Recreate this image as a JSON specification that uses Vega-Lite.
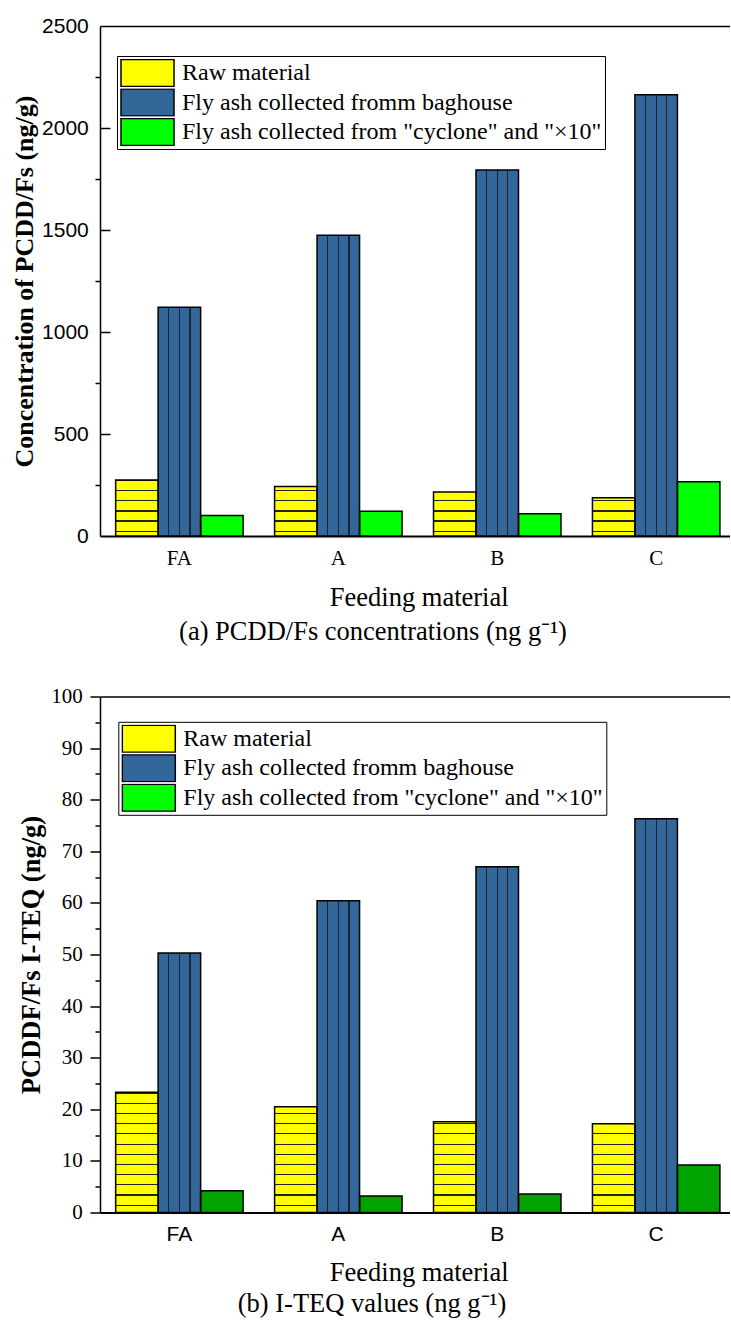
{
  "$schema": "https://vega.github.io/schema/vega-lite/v6.json",
  "background": "white",
  "padding": {"left": 11, "top": 15, "right": 0, "bottom": 5},
  "spacing": 40.5,
  "datasets": {
    "a": [
      {"g": "FA", "s": "Raw material", "v": 274},
      {"g": "FA", "s": "Fly ash collected fromm baghouse", "v": 1121},
      {"g": "FA", "s": "Fly ash collected from \"cyclone\" and \"×10\"", "v": 100},
      {"g": "A", "s": "Raw material", "v": 243},
      {"g": "A", "s": "Fly ash collected fromm baghouse", "v": 1474},
      {"g": "A", "s": "Fly ash collected from \"cyclone\" and \"×10\"", "v": 121},
      {"g": "B", "s": "Raw material", "v": 216},
      {"g": "B", "s": "Fly ash collected fromm baghouse", "v": 1794},
      {"g": "B", "s": "Fly ash collected from \"cyclone\" and \"×10\"", "v": 109},
      {"g": "C", "s": "Raw material", "v": 187},
      {"g": "C", "s": "Fly ash collected fromm baghouse", "v": 2163},
      {"g": "C", "s": "Fly ash collected from \"cyclone\" and \"×10\"", "v": 266}
    ],
    "b": [
      {"g": "FA", "s": "Raw material", "v": 23.3},
      {"g": "FA", "s": "Fly ash collected fromm baghouse", "v": 50.3},
      {"g": "FA", "s": "Fly ash collected from \"cyclone\" and \"×10\"", "v": 4.2},
      {"g": "A", "s": "Raw material", "v": 20.5},
      {"g": "A", "s": "Fly ash collected fromm baghouse", "v": 60.4},
      {"g": "A", "s": "Fly ash collected from \"cyclone\" and \"×10\"", "v": 3.2},
      {"g": "B", "s": "Raw material", "v": 17.6},
      {"g": "B", "s": "Fly ash collected fromm baghouse", "v": 67.0},
      {"g": "B", "s": "Fly ash collected from \"cyclone\" and \"×10\"", "v": 3.6},
      {"g": "C", "s": "Raw material", "v": 17.2},
      {"g": "C", "s": "Fly ash collected fromm baghouse", "v": 76.3},
      {"g": "C", "s": "Fly ash collected from \"cyclone\" and \"×10\"", "v": 9.2}
    ]
  },
  "resolve": {"scale": {"color": "independent"}, "legend": {"color": "independent"}},
  "config": {
    "view": {"stroke": null},
    "axis": {"labelColor": "black", "titleColor": "black", "domainColor": "black", "tickColor": "black"}
  },
  "vconcat": [
    {
      "width": 630,
      "height": 510,
      "data": {"name": "a"},
      "title": {"text": "(a) PCDD/Fs concentrations (ng g⁻¹)", "orient": "bottom", "anchor": "middle", "frame": "group", "dx": -42, "offset": 8, "baseline": "top", "font": "Liberation Serif", "fontSize": 26.5, "fontWeight": "normal", "color": "black"},
      "resolve": {"axis": {"x": "independent"}},
      "encoding": {
        "xOffset": {"field": "s", "type": "nominal", "sort": ["Raw material", "Fly ash collected fromm baghouse", "Fly ash collected from \"cyclone\" and \"×10\""]},
        "y": {
          "field": "v", "type": "quantitative", "stack": null,
          "scale": {"domain": [0, 2500], "nice": false},
          "axis": {
            "values": [0, 250, 500, 750, 1000, 1250, 1500, 1750, 2000, 2250, 2500],
            "format": "d",
            "labelExpr": "datum.value % 500 === 0 ? datum.label : ''",
            "labelFont": "Liberation Sans", "labelFontSize": 21, "labelPadding": 6.7, "labelFlush": false, "labelOverlap": false,
            "tickSize": 5, "tickWidth": 1.5,
            "tickOpacity": {"condition": {"test": "datum.value % 500 !== 0", "value": 1}, "value": 0},
            "grid": true, "gridColor": "black", "gridWidth": 1.5, "gridDash": [10, 2000],
            "gridOpacity": {"condition": {"test": "datum.value % 500 === 0 && datum.value > 0 && datum.value < 2500", "value": 1}, "value": 0},
            "domainWidth": 1.5,
            "title": "Concentration of PCDD/Fs (ng/g)", "titleFont": "Liberation Serif", "titleFontSize": 26, "titleFontWeight": "bold", "titlePadding": 4
          }
        }
      },
      "layer": [
        {
          "mark": {"type": "bar", "strokeWidth": 0},
          "encoding": {
            "x": {
              "field": "g", "type": "nominal", "sort": ["FA", "A", "B", "C"],
              "scale": {"paddingInner": 0.198, "paddingOuter": 0.081, "align": 0.608},
              "axis": {"orient": "bottom", "ticks": false, "labelAngle": 0, "labelFont": "Liberation Serif", "labelFontSize": 21, "labelPadding": 11, "domainWidth": 2, "title": "Feeding material", "titleFont": "Liberation Serif", "titleFontSize": 26.5, "titleFontWeight": "normal", "titlePadding": 16, "titleX": 318.7}
            },
            "color": {
              "field": "s", "type": "nominal",
              "scale": {"domain": ["Raw material", "Fly ash collected fromm baghouse", "Fly ash collected from \"cyclone\" and \"×10\""], "range": ["#ffff00", "#336699", "#00ff00"]},
              "legend": {
                "title": null, "orient": "none", "legendX": 17, "legendY": 30,
                "symbolType": "M-1,-0.509H1V0.509H-1Z", "symbolSize": 2809,
                "clipHeight": 28, "rowPadding": 1.5,
                "labelFont": "Liberation Serif", "labelFontSize": 24, "labelColor": "black", "labelOffset": 7, "labelLimit": 600,
                "padding": 3, "strokeColor": "black", "fillColor": "white",
                "symbolStrokeColor": "black", "symbolStrokeWidth": 1.5,
                "encode": {"symbols": {"update": {
                  "fill": {"signal": "indexof(datum.value,'Raw')===0 ? {gradient:'linear',x1:1,y1:0,x2:1,y2:1,stops:[{offset:0,color:'#ffff00'},{offset:0.355,color:'#ffff00'},{offset:0.355,color:'#333'},{offset:0.395,color:'#333'},{offset:0.395,color:'#ffff00'},{offset:0.73,color:'#ffff00'},{offset:0.73,color:'#333'},{offset:0.77,color:'#333'},{offset:0.77,color:'#ffff00'},{offset:1,color:'#ffff00'}]} : indexof(datum.value,'baghouse')>0 ? {gradient:'linear',x1:0,y1:0,x2:1,y2:0,stops:[{offset:0,color:'#336699'},{offset:0.189,color:'#336699'},{offset:0.189,color:'#1a2533'},{offset:0.211,color:'#1a2533'},{offset:0.211,color:'#336699'},{offset:0.389,color:'#336699'},{offset:0.389,color:'#1a2533'},{offset:0.411,color:'#1a2533'},{offset:0.411,color:'#336699'},{offset:0.589,color:'#336699'},{offset:0.589,color:'#1a2533'},{offset:0.611,color:'#1a2533'},{offset:0.611,color:'#336699'},{offset:0.789,color:'#336699'},{offset:0.789,color:'#1a2533'},{offset:0.811,color:'#1a2533'},{offset:0.811,color:'#336699'},{offset:1,color:'#336699'}]} : '#00ff00'"},
                  "stroke": {"value": "black"},
                  "strokeWidth": {"value": 1.5},
                  "opacity": {"value": 1}
                }}}
              }
            }
          }
        },
        {
          "mark": {
            "type": "bar", "stroke": "black", "strokeWidth": 1.5,
            "fill": {"expr": "indexof(datum.s,'Raw')===0 ? {gradient:'linear',x1:1,y1:1,x2:1,y2:1-61.2/(datum.v*0.204),stops:[{offset:0,color:'transparent'},{offset:0.067,color:'transparent'},{offset:0.067,color:'#222'},{offset:0.0866,color:'#222'},{offset:0.0866,color:'transparent'},{offset:0.2337,color:'transparent'},{offset:0.2337,color:'#222'},{offset:0.2533,color:'#222'},{offset:0.2533,color:'transparent'},{offset:0.4003,color:'transparent'},{offset:0.4003,color:'#222'},{offset:0.4199,color:'#222'},{offset:0.4199,color:'transparent'},{offset:0.567,color:'transparent'},{offset:0.567,color:'#222'},{offset:0.5866,color:'#222'},{offset:0.5866,color:'transparent'},{offset:0.7337,color:'transparent'},{offset:0.7337,color:'#222'},{offset:0.7533,color:'#222'},{offset:0.7533,color:'transparent'},{offset:0.9003,color:'transparent'},{offset:0.9003,color:'#222'},{offset:0.9199,color:'#222'},{offset:0.9199,color:'transparent'},{offset:1,color:'transparent'}]} : indexof(datum.s,'baghouse')>0 ? {gradient:'linear',x1:0,y1:0,x2:1,y2:0,stops:[{offset:0,color:'transparent'},{offset:0.236,color:'transparent'},{offset:0.236,color:'#1a2533'},{offset:0.264,color:'#1a2533'},{offset:0.264,color:'transparent'},{offset:0.486,color:'transparent'},{offset:0.486,color:'#1a2533'},{offset:0.514,color:'#1a2533'},{offset:0.514,color:'transparent'},{offset:0.736,color:'transparent'},{offset:0.736,color:'#1a2533'},{offset:0.764,color:'#1a2533'},{offset:0.764,color:'transparent'},{offset:1,color:'transparent'}]} : 'transparent'"}
          },
          "encoding": {
            "x": {"field": "g", "type": "nominal", "sort": ["FA", "A", "B", "C"], "axis": {"orient": "top", "labels": false, "ticks": false, "title": null, "domainWidth": 1.5}}
          }
        }
      ]
    },
    {
      "width": 630,
      "height": 516,
      "data": {"name": "b"},
      "title": {"text": "(b) I-TEQ values (ng g⁻¹)", "orient": "bottom", "anchor": "middle", "frame": "group", "dx": -43, "offset": 5, "baseline": "top", "font": "Liberation Serif", "fontSize": 26.5, "fontWeight": "normal", "color": "black"},
      "resolve": {"axis": {"x": "independent"}},
      "encoding": {
        "xOffset": {"field": "s", "type": "nominal", "sort": ["Raw material", "Fly ash collected fromm baghouse", "Fly ash collected from \"cyclone\" and \"×10\""]},
        "y": {
          "field": "v", "type": "quantitative", "stack": null,
          "scale": {"domain": [0, 100], "nice": false},
          "axis": {
            "values": [0, 5, 10, 15, 20, 25, 30, 35, 40, 45, 50, 55, 60, 65, 70, 75, 80, 85, 90, 95, 100],
            "format": "d",
            "labelExpr": "datum.value % 10 === 0 ? datum.label : ''",
            "labelFont": "Liberation Serif", "labelFontSize": 21, "labelPadding": 7.7, "labelFlush": false, "labelOverlap": false,
            "tickSize": {"condition": {"test": "datum.value % 10 === 0", "value": 10}, "value": 5},
            "tickWidth": 1.5,
            "grid": false,
            "domainWidth": 1.5,
            "title": "PCDDF/Fs I-TEQ (ng/g)", "titleFont": "Liberation Serif", "titleFontSize": 26.5, "titleFontWeight": "bold", "titlePadding": 5
          }
        }
      },
      "layer": [
        {
          "mark": {"type": "bar", "strokeWidth": 0},
          "encoding": {
            "x": {
              "field": "g", "type": "nominal", "sort": ["FA", "A", "B", "C"],
              "scale": {"paddingInner": 0.198, "paddingOuter": 0.081, "align": 0.608},
              "axis": {"orient": "bottom", "ticks": false, "labelAngle": 0, "labelFont": "Liberation Sans", "labelFontSize": 21, "labelPadding": 11, "domainWidth": 2, "title": "Feeding material", "titleFont": "Liberation Serif", "titleFontSize": 26.5, "titleFontWeight": "normal", "titlePadding": 15, "titleX": 318.7}
            },
            "color": {
              "field": "s", "type": "nominal",
              "scale": {"domain": ["Raw material", "Fly ash collected fromm baghouse", "Fly ash collected from \"cyclone\" and \"×10\""], "range": ["#ffff00", "#336699", "#00ff00"]},
              "legend": {
                "title": null, "orient": "none", "legendX": 18.3, "legendY": 25.3,
                "symbolType": "M-1,-0.509H1V0.509H-1Z", "symbolSize": 2809,
                "clipHeight": 28, "rowPadding": 1.5,
                "labelFont": "Liberation Serif", "labelFontSize": 24, "labelColor": "black", "labelOffset": 7, "labelLimit": 600,
                "padding": 3, "strokeColor": "black", "fillColor": "white",
                "symbolStrokeColor": "black", "symbolStrokeWidth": 1.5,
                "encode": {"symbols": {"update": {
                  "fill": {"signal": "indexof(datum.value,'Raw')===0 ? {gradient:'linear',x1:1,y1:0,x2:1,y2:1,stops:[{offset:0,color:'#ffff00'},{offset:0.355,color:'#ffff00'},{offset:0.355,color:'#333'},{offset:0.395,color:'#333'},{offset:0.395,color:'#ffff00'},{offset:0.73,color:'#ffff00'},{offset:0.73,color:'#333'},{offset:0.77,color:'#333'},{offset:0.77,color:'#ffff00'},{offset:1,color:'#ffff00'}]} : indexof(datum.value,'baghouse')>0 ? {gradient:'linear',x1:0,y1:0,x2:1,y2:0,stops:[{offset:0,color:'#336699'},{offset:0.189,color:'#336699'},{offset:0.189,color:'#1a2533'},{offset:0.211,color:'#1a2533'},{offset:0.211,color:'#336699'},{offset:0.389,color:'#336699'},{offset:0.389,color:'#1a2533'},{offset:0.411,color:'#1a2533'},{offset:0.411,color:'#336699'},{offset:0.589,color:'#336699'},{offset:0.589,color:'#1a2533'},{offset:0.611,color:'#1a2533'},{offset:0.611,color:'#336699'},{offset:0.789,color:'#336699'},{offset:0.789,color:'#1a2533'},{offset:0.811,color:'#1a2533'},{offset:0.811,color:'#336699'},{offset:1,color:'#336699'}]} : '#00a300'"},
                  "stroke": {"value": "black"},
                  "strokeWidth": {"value": 1.5},
                  "opacity": {"value": 1}
                }}}
              }
            }
          }
        },
        {
          "mark": {
            "type": "bar", "stroke": "black", "strokeWidth": 1.5,
            "fill": {"expr": "indexof(datum.s,'Raw')===0 ? {gradient:'linear',x1:1,y1:1,x2:1,y2:1-122.4/(datum.v*5.16),stops:[{offset:0,color:'transparent'},{offset:0.0539,color:'transparent'},{offset:0.0539,color:'#222'},{offset:0.0637,color:'#222'},{offset:0.0637,color:'transparent'},{offset:0.1373,color:'transparent'},{offset:0.1373,color:'#222'},{offset:0.1471,color:'#222'},{offset:0.1471,color:'transparent'},{offset:0.2206,color:'transparent'},{offset:0.2206,color:'#222'},{offset:0.2304,color:'#222'},{offset:0.2304,color:'transparent'},{offset:0.3039,color:'transparent'},{offset:0.3039,color:'#222'},{offset:0.3137,color:'#222'},{offset:0.3137,color:'transparent'},{offset:0.3873,color:'transparent'},{offset:0.3873,color:'#222'},{offset:0.3971,color:'#222'},{offset:0.3971,color:'transparent'},{offset:0.4706,color:'transparent'},{offset:0.4706,color:'#222'},{offset:0.4804,color:'#222'},{offset:0.4804,color:'transparent'},{offset:0.5539,color:'transparent'},{offset:0.5539,color:'#222'},{offset:0.5637,color:'#222'},{offset:0.5637,color:'transparent'},{offset:0.6373,color:'transparent'},{offset:0.6373,color:'#222'},{offset:0.6471,color:'#222'},{offset:0.6471,color:'transparent'},{offset:0.7206,color:'transparent'},{offset:0.7206,color:'#222'},{offset:0.7304,color:'#222'},{offset:0.7304,color:'transparent'},{offset:0.8039,color:'transparent'},{offset:0.8039,color:'#222'},{offset:0.8137,color:'#222'},{offset:0.8137,color:'transparent'},{offset:0.8873,color:'transparent'},{offset:0.8873,color:'#222'},{offset:0.8971,color:'#222'},{offset:0.8971,color:'transparent'},{offset:0.9706,color:'transparent'},{offset:0.9706,color:'#222'},{offset:0.9804,color:'#222'},{offset:0.9804,color:'transparent'},{offset:1,color:'transparent'}]} : indexof(datum.s,'baghouse')>0 ? {gradient:'linear',x1:0,y1:0,x2:1,y2:0,stops:[{offset:0,color:'transparent'},{offset:0.236,color:'transparent'},{offset:0.236,color:'#1a2533'},{offset:0.264,color:'#1a2533'},{offset:0.264,color:'transparent'},{offset:0.486,color:'transparent'},{offset:0.486,color:'#1a2533'},{offset:0.514,color:'#1a2533'},{offset:0.514,color:'transparent'},{offset:0.736,color:'transparent'},{offset:0.736,color:'#1a2533'},{offset:0.764,color:'#1a2533'},{offset:0.764,color:'transparent'},{offset:1,color:'transparent'}]} : 'rgba(0,0,0,0.36)'"}
          },
          "encoding": {
            "x": {"field": "g", "type": "nominal", "sort": ["FA", "A", "B", "C"], "axis": {"orient": "top", "labels": false, "ticks": false, "title": null, "domainWidth": 1.5}}
          }
        }
      ]
    }
  ]
}
